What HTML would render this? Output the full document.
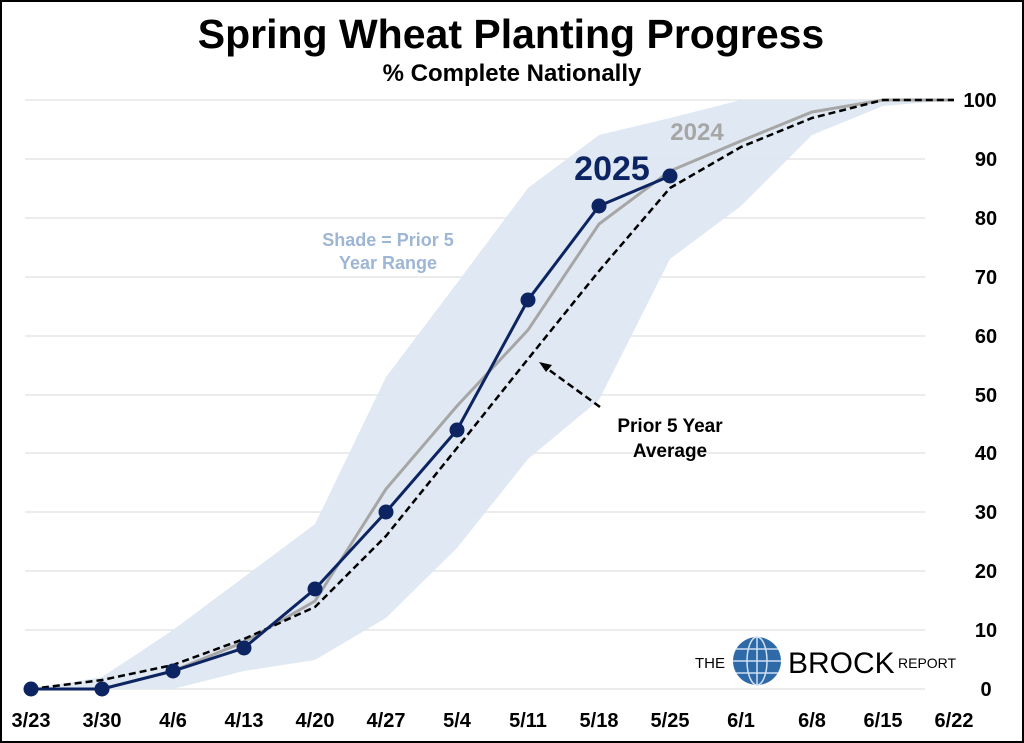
<!DOCTYPE html>
<html><head><meta charset="utf-8"><style>
html,body{margin:0;padding:0;background:#fff}
svg{display:block}
text{font-family:"Liberation Sans",Arial,sans-serif;font-weight:bold}
</style></head><body>
<svg width="1024" height="743" viewBox="0 0 1024 743">
<rect x="1" y="1" width="1022" height="741" fill="#fff" stroke="#000" stroke-width="2"/>
<text x="511" y="48" font-size="41" text-anchor="middle">Spring Wheat Planting Progress</text>
<text x="512" y="81" font-size="24" text-anchor="middle">% Complete Nationally</text>
<g stroke="#d9d9d9" stroke-width="1">
<line x1="25" x2="925" y1="100" y2="100"/><line x1="25" x2="925" y1="159" y2="159"/><line x1="25" x2="925" y1="218" y2="218"/><line x1="25" x2="925" y1="277" y2="277"/><line x1="25" x2="925" y1="336" y2="336"/><line x1="25" x2="925" y1="395" y2="395"/><line x1="25" x2="925" y1="453" y2="453"/><line x1="25" x2="925" y1="512" y2="512"/><line x1="25" x2="925" y1="571" y2="571"/><line x1="25" x2="925" y1="630" y2="630"/><line x1="25" x2="925" y1="689" y2="689"/>
</g>
<polygon fill="#dde7f2" opacity="0.9" points="31,689 102,677 173,630 244,577 315,524 386,377 457,283 528,188 599,135 670,118 741,100 812,100 883,100 954,100 954,100 883,106 812,135 741,206 670,259 599,400 528,459 457,548 386,618 315,660 244,671 173,689 102,689 31,689"/>
<text x="388" y="246" font-size="18" fill="#9db6d6" text-anchor="middle">Shade = Prior 5</text>
<text x="388" y="269" font-size="18" fill="#9db6d6" text-anchor="middle">Year Range</text>
<polyline fill="none" stroke="#a6a6a6" stroke-width="3" points="31,689 102,689 173,671 244,642 315,601 386,489 457,406 528,330 599,224 670,171 741,141 812,112 883,100 954,100"/>
<polyline fill="none" stroke="#000" stroke-width="2.5" stroke-dasharray="7,4" points="31,689 102,680 173,665 244,639 315,607 386,536 457,448 528,359 599,271 670,188 741,147 812,118 883,100 954,100"/>
<polyline fill="none" stroke="#0c2461" stroke-width="3" points="31,689 102,689 173,671 244,648 315,589 386,512 457,430 528,300 599,206 670,176"/>
<g fill="#0c2461">
<circle cx="31" cy="689" r="7.5"/><circle cx="102" cy="689" r="7.5"/><circle cx="173" cy="671" r="7.5"/><circle cx="244" cy="648" r="7.5"/><circle cx="315" cy="589" r="7.5"/><circle cx="386" cy="512" r="7.5"/><circle cx="457" cy="430" r="7.5"/><circle cx="528" cy="300" r="7.5"/><circle cx="599" cy="206" r="7.5"/><circle cx="670" cy="176" r="7.5"/>
</g>
<text x="612" y="180" font-size="34" fill="#0c2461" text-anchor="middle">2025</text>
<text x="697" y="140" font-size="24" fill="#a6a6a6" text-anchor="middle">2024</text>
<line x1="600" y1="407" x2="545" y2="367" stroke="#000" stroke-width="2.5" stroke-dasharray="7,4"/>
<polygon points="539,362 552,365 546,372" fill="#000"/>
<text x="670" y="432" font-size="19" text-anchor="middle">Prior 5 Year</text>
<text x="670" y="457" font-size="19" text-anchor="middle">Average</text>
<g font-size="20" text-anchor="middle">
<text x="980" y="107">100</text><text x="986" y="166">90</text><text x="986" y="225">80</text><text x="986" y="284">70</text><text x="986" y="343">60</text><text x="986" y="402">50</text><text x="986" y="460">40</text><text x="986" y="519">30</text><text x="986" y="578">20</text><text x="986" y="637">10</text><text x="986" y="696">0</text>
</g>
<g font-size="20" text-anchor="middle">
<text x="31" y="727">3/23</text><text x="102" y="727">3/30</text><text x="173" y="727">4/6</text><text x="244" y="727">4/13</text><text x="315" y="727">4/20</text><text x="386" y="727">4/27</text><text x="457" y="727">5/4</text><text x="528" y="727">5/11</text><text x="599" y="727">5/18</text><text x="670" y="727">5/25</text><text x="741" y="727">6/1</text><text x="812" y="727">6/8</text><text x="883" y="727">6/15</text><text x="954" y="727">6/22</text>
</g>
<text x="695" y="668" font-size="15" style="font-weight:normal">THE</text>
<circle cx="757" cy="661" r="24" fill="#2f6aa8"/>
<g stroke="#cfe0f2" stroke-width="1.5" fill="none"><ellipse cx="757" cy="661" rx="10" ry="24"/><line x1="733" y1="661" x2="781" y2="661"/><line x1="736" y1="649" x2="778" y2="649"/><line x1="736" y1="673" x2="778" y2="673"/><line x1="757" y1="637" x2="757" y2="685"/></g>
<text x="788" y="673" font-size="30" style="font-weight:normal">BROCK</text>
<text x="898" y="668" font-size="14" style="font-weight:normal">REPORT</text>
</svg>
</body></html>
